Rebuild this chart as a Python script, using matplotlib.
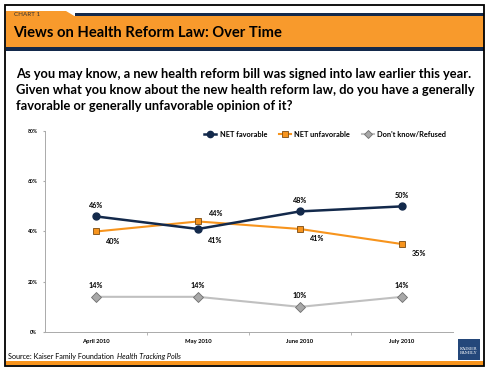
import matplotlib.pyplot as plt
from matplotlib.patches import Rectangle, Polygon

# --- data ---
months = ['April 2010', 'May 2010', 'June 2010', 'July 2010']
net_favorable = [46, 41, 48, 50]
net_unfavorable = [40, 44, 41, 35]
dont_know = [14, 14, 10, 14]
y_ticks = [0, 20, 40, 60, 80]

W, H = 489, 370
NAVY = '#13294b'
ORANGE = '#f7941d'
BAND = '#f89a2c'
GRAY_LINE = '#c0c0c0'

plt.rcParams['font.family'] = ['Lato', 'DejaVu Sans']
fig = plt.figure(figsize=(W / 100, H / 100), dpi=100)


def px(x, y):
    # pixel coords (top-left origin) -> figure fraction
    return x / W, 1 - y / H


def rect(x0, y0, x1, y1, color, **kw):
    fx, fy = px(x0, y1)
    fig.patches.append(Rectangle((fx, fy), (x1 - x0) / W, (y1 - y0) / H,
                                 transform=fig.transFigure, color=color, lw=0, **kw))


# --- header ---
rect(75, 13, 484, 17, NAVY)
tab = [px(6, 11), px(66, 11), px(76, 17), px(6, 17)]
fig.patches.append(Polygon(tab, closed=True, transform=fig.transFigure, color=BAND, lw=0))
rect(6, 16.5, 484, 47, BAND)
rect(6, 47, 484, 51, NAVY)
fig.text(*px(14, 14.3), 'CHART 1', fontsize=4.5, color='#333333', va='center', ha='left')
fig.text(*px(13, 33), 'Views on Health Reform Law: Over Time', fontsize=10.6,
         fontweight='bold', color='black', va='center', ha='left')

fig.text(*px(16, 90), 'As you may know, a new health reform bill was signed into law earlier this year.\n'
         'Given what you know about the new health reform law, do you have a generally\n'
         'favorable or generally unfavorable opinion of it?',
         fontsize=9.3, fontweight='bold', va='center', ha='left', linespacing=1.45)

# --- footer ---
rect(6, 361, 484, 365, ORANGE)
src = fig.text(*px(8, 356), 'Source: Kaiser Family Foundation ', fontsize=5.2, va='center', ha='left')
fig.add_artist(plt.Annotation('Health Tracking Polls', xy=(1, 0.5), xycoords=src,
                              xytext=(1, 0), textcoords='offset points',
                              fontsize=5.2, style='italic', va='center', ha='left'))
rect(458, 339, 480, 360, '#24477a')
fig.text(*px(469, 351), 'KAISER\nFAMILY', fontsize=3.2, color='white', ha='center', va='center',
         family='DejaVu Serif', linespacing=0.9)

# outer frame
fx, fy = px(5, 366)
fig.patches.append(Rectangle((fx, fy), 479 / W, 361 / H, transform=fig.transFigure,
                             fill=False, ec='black', lw=1.3))

# --- chart ---
l, b = px(45, 332)
r, t = px(453, 131)
ax = fig.add_axes([l, b, r - l, t - b])
x = list(range(len(months)))

ax.plot(x, dont_know, color=GRAY_LINE, lw=1.5, marker='D', ms=5,
        mfc='#a8a8a8', mec='#6f6f6f', mew=0.6, label="Don't know/Refused", zorder=3)
ax.plot(x, net_unfavorable, color=ORANGE, lw=1.5, marker='s', ms=5,
        mfc=ORANGE, mec='#7a4a10', mew=0.6, label='NET unfavorable', zorder=4)
ax.plot(x, net_favorable, color=NAVY, lw=1.8, marker='o', ms=5,
        mfc=NAVY, mec=NAVY, label='NET favorable', zorder=5)

lab = dict(fontsize=5.2, fontweight='bold', zorder=6)
for i, v in enumerate(net_favorable):
    if i == 1:
        ax.annotate(f'{v}%', (i, v), xytext=(7, -8), textcoords='offset points', ha='left', va='center', **lab)
    else:
        ax.annotate(f'{v}%', (i, v), xytext=(0, 8), textcoords='offset points', ha='center', va='center', **lab)
for i, v in enumerate(net_unfavorable):
    if i == 1:
        ax.annotate(f'{v}%', (i, v), xytext=(8, 6), textcoords='offset points', ha='left', va='center', **lab)
    else:
        ax.annotate(f'{v}%', (i, v), xytext=(7, -7), textcoords='offset points', ha='left', va='center', **lab)
for i, v in enumerate(dont_know):
    ax.annotate(f'{v}%', (i, v), xytext=(0, 8), textcoords='offset points', ha='center', va='center', **lab)

ax.set_xlim(-0.5, len(months) - 0.5)
ax.set_ylim(0, 80)
ax.set_yticks(y_ticks)
ax.set_yticklabels([f'{v}%' for v in y_ticks], fontsize=3.6, fontweight='bold')
ax.set_xticks(x)
ax.set_xticklabels(months, fontsize=4.2, fontweight='bold')
ax.set_xticks([i + 0.5 for i in x[:-1]], minor=True)
ax.tick_params(axis='x', which='major', length=0, pad=5)
ax.tick_params(axis='x', which='minor', length=2.5, color='#aaaaaa')
ax.tick_params(axis='y', length=1.5, color='#aaaaaa', pad=4)
for s in ['top', 'right']:
    ax.spines[s].set_visible(False)
for s in ['left', 'bottom']:
    ax.spines[s].set_color('#aaaaaa')
    ax.spines[s].set_linewidth(0.7)

handles, labels = ax.get_legend_handles_labels()
ax.legend(handles[::-1], labels[::-1], loc='upper right', bbox_to_anchor=(1.0, 1.035), ncol=3,
          frameon=False, prop={'size': 5.3, 'weight': 'bold'}, handlelength=1.6,
          columnspacing=1.6, handletextpad=0.5, markerscale=0.9)

fig.savefig('out.png', dpi=100)
